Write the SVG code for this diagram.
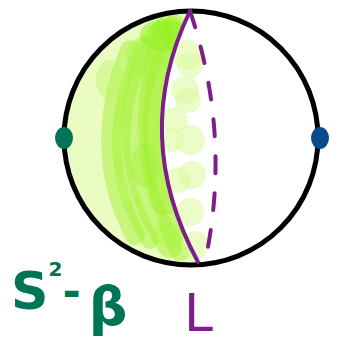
<svg xmlns="http://www.w3.org/2000/svg" width="338" height="351" viewBox="0 0 338 351">
<defs>
<style>
.blob{fill:#dcfa9c;opacity:0.55}
.stroke{fill:none;stroke:#9ef02a;stroke-linecap:round;opacity:0.45}
.teal{fill:#007556;font-family:"DejaVu Sans",sans-serif;font-weight:bold}
.purple{fill:#7d1f8a;font-family:"DejaVu Sans",sans-serif}
</style>
<clipPath id="cres"><path d="M190,11 A127,127 0 0 0 197,265 Q130,136 190,11 Z"/></clipPath>
</defs>
<g id="shading">
<path d="M190,11 A127,127 0 0 0 197,265 Q130,136 190,11 Z" fill="#ebfcc2"/>
<g clip-path="url(#cres)">
<path class="stroke" stroke-width="26" d="M160,35 Q105,140 170,245"/>
<path class="stroke" stroke-width="22" d="M175,25 Q130,130 180,250"/>
<path class="stroke" stroke-width="18" d="M145,45 Q95,150 150,240"/>
<path class="stroke" stroke-width="30" d="M168,30 Q140,120 165,200"/>
<path class="stroke" stroke-width="20" d="M130,50 Q90,150 135,235"/>
<ellipse cx="165" cy="35" rx="25" ry="16" fill="#86f20e" opacity="0.5"/>
<ellipse cx="148" cy="55" rx="22" ry="20" fill="#a8f540" opacity="0.4"/>
<ellipse cx="110" cy="80" rx="14" ry="20" fill="#b8f560" opacity="0.4"/>
<ellipse cx="145" cy="165" rx="14" ry="22" fill="#a0f035" opacity="0.4"/>
<ellipse cx="125" cy="190" rx="12" ry="14" fill="#c0f870" opacity="0.35"/>
<ellipse cx="170" cy="235" rx="18" ry="12" fill="#a8f540" opacity="0.35"/>
</g>
<circle class="blob" cx="187" cy="55" r="15"/>
<circle class="blob" cx="190" cy="65" r="13"/>
<circle class="blob" cx="185" cy="90" r="14"/>
<circle class="blob" cx="188" cy="100" r="13"/>
<circle class="blob" cx="175" cy="120" r="13"/>
<circle class="blob" cx="190" cy="140" r="15"/>
<circle class="blob" cx="172" cy="140" r="12"/>
<circle class="blob" cx="192" cy="175" r="14"/>
<circle class="blob" cx="178" cy="180" r="13"/>
<circle class="blob" cx="190" cy="212" r="14"/>
<circle class="blob" cx="195" cy="245" r="14"/>
</g>
<g id="sphere">
<circle cx="191" cy="138" r="127" fill="none" stroke="#000" stroke-width="5"/>
</g>
<g id="connectors">
<path d="M190,11 Q130,136 198,262" fill="none" stroke="#7d1f8a" stroke-width="4" stroke-linecap="round"/>
<path d="M190,11 Q232,136 205,262" fill="none" stroke="#7d1f8a" stroke-width="4" stroke-linecap="round" stroke-dasharray="17,20"/>
</g>
<g id="point-left"><ellipse cx="64" cy="138" rx="9" ry="11" fill="#007556"/></g>
<g id="point-right"><ellipse cx="320" cy="138" rx="9" ry="11" fill="#0a4a8c"/></g>
<g id="label-s2b">
<text class="teal" x="11" y="309" font-size="52">S<tspan font-size="20" dy="-33">2</tspan><tspan font-size="44" dy="31">-</tspan><tspan font-size="54" dx="8" dy="18">β</tspan></text>
</g>
<g id="label-L">
<text class="purple" x="184" y="331" font-size="52">L</text>
</g>
</svg>
